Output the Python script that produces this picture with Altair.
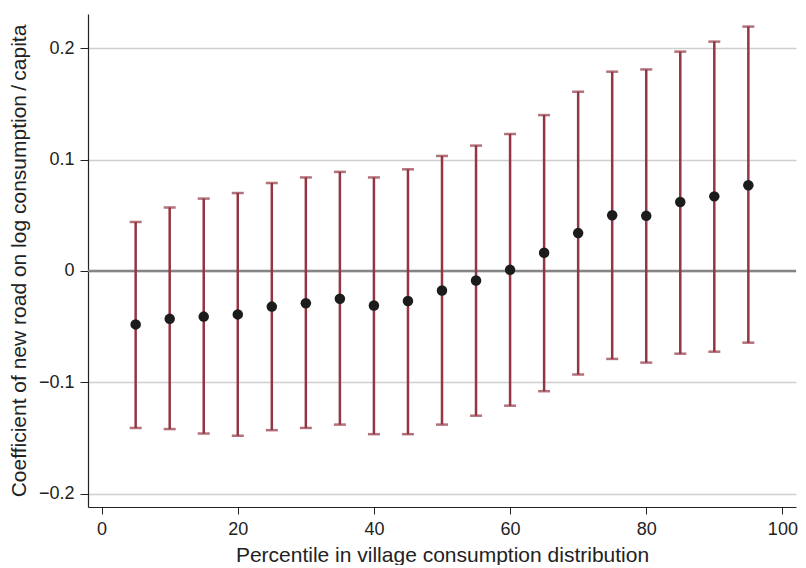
import altair as alt
import pandas as pd

pct = [5, 10, 15, 20, 25, 30, 35, 40, 45, 50, 55, 60, 65, 70, 75, 80, 85, 90, 95]
coef = [-0.048, -0.043, -0.041, -0.039, -0.032, -0.029, -0.025, -0.031, -0.027, -0.0175,
        -0.0085, 0.001, 0.0163, 0.034, 0.050, 0.0495, 0.062, 0.067, 0.077]
upper = [0.044, 0.057, 0.065, 0.070, 0.079, 0.084, 0.089, 0.084, 0.0913, 0.1033,
         0.1126, 0.123, 0.140, 0.161, 0.179, 0.181, 0.197, 0.206, 0.2195]
lower = [-0.141, -0.142, -0.146, -0.148, -0.143, -0.141, -0.138, -0.1466, -0.1466, -0.138,
         -0.130, -0.121, -0.108, -0.093, -0.079, -0.0823, -0.0743, -0.0725, -0.0644]

df = pd.DataFrame({"pct": pct, "coef": coef, "lo": lower, "hi": upper})

FONT = "Liberation Sans"
RED = "#933542"

xscale = alt.Scale(domain=[-2, 102], nice=False, zero=False, padding=0)
yscale = alt.Scale(domain=[-0.212, 0.2308], nice=False, zero=False, padding=0)

xaxis = alt.Axis(values=[0, 20, 40, 60, 80, 100], title="Percentile in village consumption distribution",
                 grid=False, tickSize=7, tickColor="#222", domainColor="#222", domainWidth=1.2,
                 labelPadding=6, labelFontSize=18, titleFontSize=21, titlePadding=6,
                 labelFont=FONT, titleFont=FONT, labelColor="#222", titleColor="#222",
                 titleFontWeight="normal")
yaxis = alt.Axis(values=[-0.2, -0.1, 0, 0.1, 0.2], format=".1~f",
                 title="Coefficient of new road on log consumption\u2009/\u2009capita",
                 grid=True, gridColor="#cfcfcf", gridWidth=1.5,
                 tickSize=8, tickColor="#222", domainColor="#222", domainWidth=1.2,
                 labelPadding=6, labelFontSize=18, titleFontSize=21, titlePadding=9,
                 labelFont=FONT, titleFont=FONT, labelColor="#222", titleColor="#222",
                 titleFontWeight="normal")

base = alt.Chart(df)

zero = alt.Chart(pd.DataFrame({"z": [0]})).mark_rule(color="#858585", strokeWidth=2.5).encode(
    y=alt.Y("z:Q", scale=yscale, axis=yaxis)
)

bars = base.mark_rule(color=RED, strokeWidth=2.5).encode(
    x=alt.X("pct:Q", scale=xscale, axis=xaxis),
    y=alt.Y("lo:Q", scale=yscale),
    y2="hi:Q",
)
cap_hi = base.mark_tick(color=RED, orient="horizontal", size=12, thickness=2.5).encode(
    x=alt.X("pct:Q", scale=xscale), y=alt.Y("hi:Q", scale=yscale)
)
cap_lo = base.mark_tick(color=RED, orient="horizontal", size=12, thickness=2.5).encode(
    x=alt.X("pct:Q", scale=xscale), y=alt.Y("lo:Q", scale=yscale)
)
pts = base.mark_circle(color="#1c1c1c", size=110, opacity=1).encode(
    x=alt.X("pct:Q", scale=xscale), y=alt.Y("coef:Q", scale=yscale)
)

chart = alt.layer(zero, bars, cap_hi, cap_lo, pts).properties(
    width=708, height=493, padding={"top": 6, "left": 0, "right": 0, "bottom": 0}
).configure_view(stroke="transparent")

chart.save("out.html", embed_options={"renderer": "svg", "actions": False})
